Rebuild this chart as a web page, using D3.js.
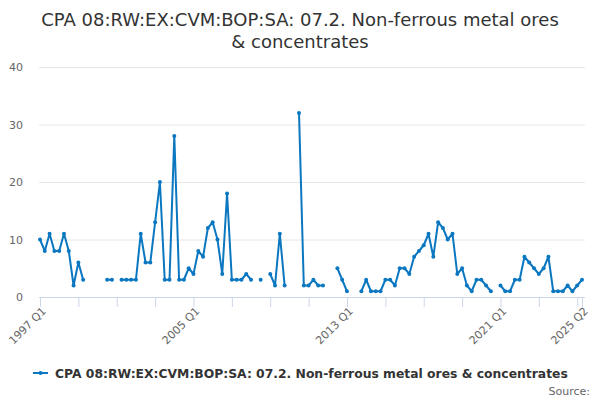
<!DOCTYPE html>
<html><head><meta charset="utf-8">
<script src="https://cdn.jsdelivr.net/npm/d3@7/dist/d3.min.js"></script>
<style>body{margin:0;background:#fff;font-family:"DejaVu Sans",sans-serif;}</style>
</head><body>
<svg id="c" width="600" height="400"></svg>
<script>
const title = ["CPA 08:RW:EX:CVM:BOP:SA: 07.2. Non-ferrous metal ores", "& concentrates"];
const seriesName = "CPA 08:RW:EX:CVM:BOP:SA: 07.2. Non-ferrous metal ores & concentrates";
const startYear = 1997;
const values = [
  10,8,11,8,8,11,8,2,6,3,
  null,null,null,null,3,3,null,3,3,3,
  3,11,6,6,13,20,3,3,28,3,
  3,5,4,8,7,12,13,10,4,18,
  3,3,3,4,3,null,3,null,4,2,
  11,2,null,null,32,2,2,3,2,2,
  null,null,5,3,1,null,null,1,3,1,
  1,1,3,3,2,5,5,4,7,8,
  9,11,7,13,12,10,11,4,5,2,
  1,3,3,2,1,null,2,1,1,3,
  3,7,6,5,4,5,7,1,1,1,
  2,1,2,3
];
const labels = values.map((v,i)=> (startYear + Math.floor(i/4)) + " Q" + (i%4+1));
const yTicks = [0,10,20,30,40];
const tickLabels = ["1997 Q1","2005 Q1","2013 Q1","2021 Q1","2025 Q2"];
const tickMarks = labels.filter((l,i)=> (i%8===0) || i===labels.length-1);

const svg = d3.select("#c");
const m = {l:40, r:582, t:67, b:297};
const x = d3.scalePoint().domain(labels).range([m.l, m.r]);
const y = d3.scaleLinear().domain([0,40]).range([m.b, m.t]);
const color = "#0a77c0";

svg.append("g").selectAll("text").data(title).join("text")
  .attr("x",300).attr("y",(d,i)=>26+i*22).attr("text-anchor","middle")
  .attr("font-size","18px").attr("fill","#333").text(d=>d);

// grid
const gy = svg.append("g").attr("transform",`translate(${m.l},0)`)
  .call(d3.axisLeft(y).tickValues(yTicks).tickSize(-(585-m.l)).tickPadding(17));
gy.select(".domain").remove();
gy.selectAll("line").attr("stroke","#e6e6e6").attr("x1",-1);
gy.selectAll("text").attr("fill","#666").attr("font-size","11px").attr("font-family","DejaVu Sans");

// x axis
const gx = svg.append("g").attr("transform",`translate(0,${m.b})`)
  .call(d3.axisBottom(x).tickValues(tickMarks).tickSize(10).tickSizeOuter(0).tickFormat(""));
gx.select(".domain").attr("stroke","#ccd6eb").attr("d",`M${m.l-1},0.5H585`);
gx.selectAll("line").attr("stroke","#ccd6eb");
const lbl = svg.append("g").selectAll("g").data(tickLabels).join("g")
  .attr("transform",d=>`translate(${x(d)+4},${m.b+12})`);
lbl.append("g").attr("transform","rotate(-45)").append("text")
  .attr("text-anchor","end").attr("dy","0.35em")
  .attr("fill","#666").attr("font-size","11px").text(d=>d);

const line = d3.line().defined(d=>d.v!==null).x(d=>x(d.l)).y(d=>y(d.v));
const data = values.map((v,i)=>({l:labels[i], v}));
svg.append("path").datum(data).attr("d",line).attr("fill","none")
  .attr("stroke",color).attr("stroke-width",2).attr("stroke-linejoin","round");
svg.append("g").selectAll("circle").data(data.filter(d=>d.v!==null)).join("circle")
  .attr("cx",d=>x(d.l)).attr("cy",d=>y(d.v)).attr("r",2).attr("fill",color);

// legend
const lg = svg.append("g");
lg.append("line").attr("x1",33).attr("x2",48).attr("y1",373).attr("y2",373).attr("stroke",color).attr("stroke-width",2);
lg.append("circle").attr("cx",40.5).attr("cy",373).attr("r",2).attr("fill",color);
lg.append("text").attr("x",55).attr("y",377.5).attr("font-size","12.35px").attr("font-weight","bold").attr("fill","#333").text(seriesName);

svg.append("text").attr("x",590).attr("y",395).attr("text-anchor","end").attr("font-size","11px").attr("fill","#666").text("Source:");
</script>
</body></html>
